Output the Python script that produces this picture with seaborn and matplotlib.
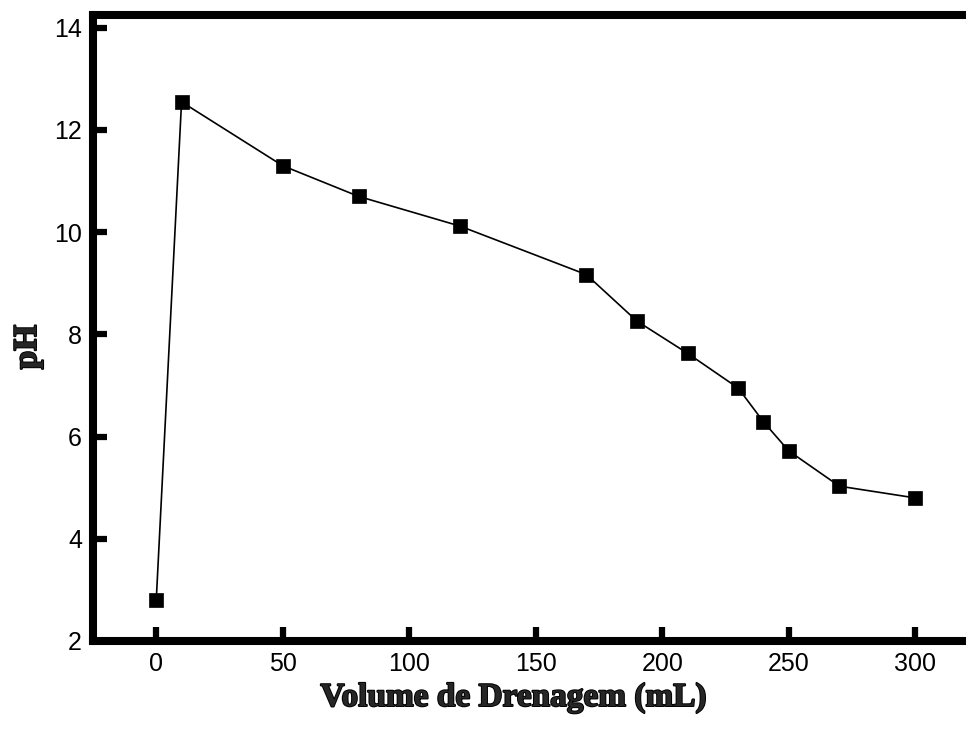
import matplotlib
matplotlib.use("Agg")
import matplotlib.pyplot as plt
import matplotlib.patheffects as pe
from matplotlib.ticker import MultipleLocator
import seaborn as sns
import pandas as pd

# Drainage volume (mL) and measured pH
volume_ml = [0, 10, 50, 80, 120, 170, 190, 210, 230, 240, 250, 270, 300]
ph_values = [2.8, 12.55, 11.3, 10.7, 10.12, 9.17, 8.26, 7.63, 6.95, 6.29, 5.72, 5.03, 4.8]
x_ticks = [0, 50, 100, 150, 200, 250, 300]
y_ticks = [2, 4, 6, 8, 10, 12, 14]

df = pd.DataFrame({"volume": volume_ml, "ph": ph_values})

sns.set_style("ticks")
plt.rcParams["font.family"] = ["Liberation Sans", "DejaVu Sans"]

fig = plt.figure(figsize=(9.66, 7.33), dpi=100)
# axes deliberately extend past the right edge of the canvas
x_lo, x_hi = -25, 325
px_per_unit = 2.53
ax_w = (x_hi - x_lo) * px_per_unit / 966
ax_w_px = ax_w * 966
ax = fig.add_axes([93 / 966, (733 - 641) / 733, ax_w, (641 - 15) / 733])

sns.lineplot(data=df, x="volume", y="ph", ax=ax, color="black", linewidth=1.2,
             marker="s", markersize=10.5, markeredgecolor="black",
             markerfacecolor="black", markeredgewidth=0.5)

ax.set_xlim(x_lo, x_hi)
ax.set_ylim(2, 14.25)
ax.set_xticks(x_ticks)
ax.set_yticks(y_ticks)
ax.xaxis.set_minor_locator(MultipleLocator(25))
ax.yaxis.set_minor_locator(MultipleLocator(1))

for side in ["left", "bottom", "top"]:
    ax.spines[side].set_linewidth(5.8)
    ax.spines[side].set_color("black")
    ax.spines[side].set_capstyle("projecting")
ax.spines["right"].set_visible(False)

ax.tick_params(which="major", direction="in", length=10, width=4.5,
               labelsize=18, pad=8, color="black", labelcolor="black")
ax.tick_params(which="minor", direction="in", length=2.5, width=3,
               color="black")
ax.tick_params(top=False, right=False, which="both")
for t in ax.xaxis.get_major_ticks() + ax.yaxis.get_major_ticks():
    t.tick1line.set_solid_capstyle("round")

label_font = dict(family=["Liberation Serif", "DejaVu Serif"], weight="bold",
                  size=24)
heavy = [pe.withStroke(linewidth=1.4, foreground="black")]
ax.set_xlabel("Volume de Drenagem (mL)", **label_font)
ax.set_ylabel("pH", **label_font)
ax.xaxis.label.set_path_effects(heavy)
ax.yaxis.label.set_path_effects(heavy)
ax.xaxis.set_label_coords((514 - 93) / ax_w_px, -(682 - 641) / 626)
ax.yaxis.set_label_coords(-(93 - 43) / ax_w_px, (641 - 347) / 626)

fig.savefig("out.png", dpi=100)
